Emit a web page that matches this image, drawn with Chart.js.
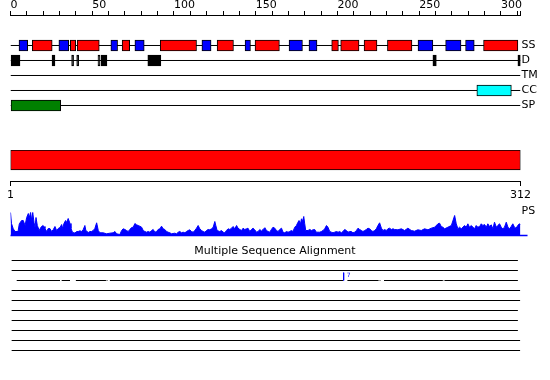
<!DOCTYPE html>
<html><head><meta charset="utf-8">
<script src="https://cdn.jsdelivr.net/npm/chart.js@4"></script>
<style>
html,body{margin:0;padding:0;background:#fff;}
#wrap{position:relative;width:550px;height:380px;overflow:hidden;}
canvas{position:absolute;left:0;top:0;}
</style></head><body>
<div id="wrap">
<canvas id="cTop" width="550" height="380"></canvas>
<canvas id="cSeq" width="550" height="380"></canvas>
<canvas id="cPS" width="550" height="380"></canvas>
<canvas id="cMSA" width="550" height="380"></canvas>
</div>
<script>
// ---------------- data ----------------
const seqLength = 312;
const topMinorStep = 10;
const topMajorStep = 50;
const trackNames = ['SS', 'D', 'TM', 'CC', 'SP'];
const ssTrackEnd = 310.4;
const helixSegments = [[13.3,25.5],[36.6,39.9],[40.8,54.3],[68.3,72.9],[91.6,113.8],[126.4,136.4],[149.6,164.5],[196.5,200.6],[202,213.2],[216.3,224.2],[230.6,245.6],[289.4,310.4]];
const strandSegments = [[5.2,10.5],[29.6,35.6],[61.4,65.5],[76.1,81.8],[117.1,122.7],[143.5,146.8],[170.4,178.6],[182.6,187.5],[249.3,258.4],[266.2,275.6],[278.4,283.7]];
const disorderSegments = [[0,5.8],[25.4,27.2],[37.4,38.6],[40.5,41.7],[53.5,54.7],[55.3,59],[84,92],[258.4,260.5],[310.4,312]];
const transmembraneSegments = [];
const coiledCoilSegments = [[285.3,306.4]];
const signalPeptideSegments = [[0,30.7]];
const seqTickLabels = [1, 312];
const psLabel = 'PS';
const psBaselineEnd = 316.3;
const psPositions = [0,0.6,1.7,2.8,4.6,5.4,6.8,7.8,8.9,9.9,10.9,11.5,12.3,13.0,13.6,14.4,15.0,15.6,16.4,17.6,18.5,19.7,20.5,21.1,22.1,23.1,24.1,25.2,26.2,27.2,28.2,29.2,30.3,31.3,31.9,32.7,33.7,34.3,35.3,36.4,37.0,38.0,39.4,40.5,41.4,42.5,43.5,44.5,45.5,46.1,47.6,48.6,49.6,50.6,51.6,52.7,53.7,54.7,56.7,58.8,60.8,62.8,63.9,64.9,66.9,68.0,68.9,70.0,71.0,72.0,73.0,74.1,75.1,76.1,77.1,78.1,79.1,80.2,81.2,82.2,83.2,84.2,85.3,86.3,87.3,88.3,89.4,90.3,91.4,92.4,93.4,94.4,95.5,96.4,97.5,98.5,100.5,101.6,102.6,103.6,104.6,105.6,106.7,107.7,108.7,109.7,110.7,111.7,112.8,113.8,114.8,115.8,116.9,117.8,118.9,119.9,120.9,121.9,123.0,124.0,125.0,125.6,126.4,128.0,129.1,130.1,131.1,132.1,133.1,134.2,135.2,136.2,137.2,138.3,139.2,140.3,141.3,142.3,143.3,144.4,145.3,146.4,147.4,148.4,149.4,150.5,151.5,152.5,153.5,154.5,155.6,156.6,157.6,158.6,159.6,160.6,161.7,162.7,163.7,164.7,165.8,166.7,167.8,168.8,169.8,170.8,171.9,172.8,173.9,174.9,175.9,176.5,177.4,178.0,178.6,179.4,180.0,180.6,182.0,183.1,184.1,185.1,186.1,187.1,189.2,190.2,191.2,192.2,193.3,194.2,195.3,196.3,197.3,198.3,199.4,200.4,201.4,202.4,203.4,204.4,205.5,206.5,207.5,208.5,209.5,210.6,211.6,212.6,213.6,214.7,215.6,216.7,217.7,218.7,219.7,220.8,221.7,222.8,223.8,224.8,225.8,226.9,227.9,228.9,229.9,230.9,231.9,233.0,234.0,235.0,237.0,239.1,241.1,243.1,245.2,247.2,249.2,251.3,253.3,255.4,257.4,259.5,261.5,262.5,263.5,264.5,265.6,267.6,269.7,271.7,272.7,273.7,274.7,275.8,277.8,278.8,279.8,280.8,281.9,282.9,283.9,284.9,285.9,287.0,288.0,289.0,290.0,291.1,292.0,293.1,294.1,295.1,296.1,297.2,298.1,299.2,300.2,301.2,302.2,303.3,304.3,305.3,306.3,307.3,308.3,309.3,310.3,311.3,312];
const psScores = [23,12,6.7,4,4,11.7,15,15,10,18,22,18,23,15,23,13,8,18,10,5,8,10,9,7,4,7,7,4,6,9,5,7,8,11,7,12,15,13,17,12,7,3,2.5,4,4,4.7,4,6,10,5,3,4,4,5,7,12.7,5,2.7,2.7,1.7,2.3,2.7,4,1.7,1,5,6.7,6,5,4,6,8,8.3,12,10.7,10,9.3,8.3,5,4,3.3,4,3.3,5,6,3.3,4,6,6.7,9.3,6.7,6,4,3.3,2.7,1.7,2.3,1.7,3.3,4,2.7,3.3,2.7,4,5,5.7,4,3.3,5,7.3,10,6.7,5,4,3.3,5,6,5.7,6.7,8.3,14,10,5,4,5,3.3,2.7,5,6.7,6,7.3,9,6.7,10,7.3,6,5,7.3,6,6.7,7.3,4,6,7.3,5.7,3.3,4,6,4.5,6,7.8,5,4,3.3,6,8.3,7.3,5,4,6,7.3,3.3,2.7,4,3.3,4,5,4,8.3,10,13.3,15,11.7,16.7,14,19,11.7,5,5,6,5,5.7,6,3.3,3.3,4,5,6.7,10,8.3,4,3.3,2.7,3.3,4,3.3,4,2.7,4,6,5,3.3,4,4,2.7,3.3,5,7.3,6,5,4,5,6,7.3,6.7,5,4,5,6.7,10,12.7,7.3,5,6,5,6.7,7.3,6,6.7,6,5.7,6.7,5,7.3,5,4.3,5.7,5,6.7,5.7,7.3,8.3,11.7,12.3,9,8.3,6.7,8.3,10,20,11.7,6.7,8.3,6.7,10,8.3,11.7,8.3,10,8.3,6.7,10,8.3,9,11.7,10,11,8.3,11.7,9,10.7,6.7,13.3,8.3,10,11.7,8.3,6.7,8.3,13.3,8.3,6.7,9,11.7,8.3,7.3,10,11.7,11];
const msaTitle = 'Multiple Sequence Alignment';
const msaRows = [
  [[0.7,310.4]],
  [[0.7,310.4]],
  [[3.8,30.3],[31.3,36.4],[40.0,58.4],[58.8,59.3],[60.8,203.4],[206.1,225.2],[225.8,226.3],[228.5,264.5],[265.0,265.4],[265.6,310.4]],
  [[0.7,311.8]],
  [[0.7,311.8]],
  [[0.7,310.4]],
  [[0.7,310.4]],
  [[0.7,310.4]],
  [[0.7,311.8]],
  [[0.7,311.8]]
];
const msaMarker = { pos: 203.8, row: 3, label: '7' };

// ---------------- setup ----------------
Chart.defaults.font.family = 'DejaVu Sans';
Chart.defaults.font.size = 11;
Chart.defaults.font.lineHeight = 1;
Chart.defaults.color = '#000';
const base = {
  responsive: false, animation: false, devicePixelRatio: 1,
  plugins: { legend: { display: false }, tooltip: { enabled: false }, title: { display: false } }
};
const segBars = (segs, row) => segs.map(s => ({ x: [s[0], s[1]], y: row }));
const trackLine = (row, end) => ({ type: 'line', data: [{ x: 0, y: row }, { x: end, y: row }], borderColor: '#000', borderWidth: 1, pointRadius: 0, order: 10 });
const boxSet = (segs, row, fill, border) => ({ type: 'bar', data: segBars(segs, row), backgroundColor: fill, borderColor: border, borderWidth: 1, borderSkipped: false, barThickness: 11, grouped: false, order: 1 });

// ---------------- top feature tracks ----------------
new Chart(document.getElementById('cTop'), {
  type: 'bar',
  data: { datasets: [
    trackLine(1, ssTrackEnd), trackLine(2, seqLength), trackLine(3, seqLength), trackLine(4, seqLength), trackLine(5, seqLength),
    boxSet(helixSegments, 1, '#ff0000', '#000'),
    boxSet(strandSegments, 1, '#0000ff', '#000'),
    boxSet(disorderSegments, 2, '#000', '#000'),
    boxSet(transmembraneSegments, 3, '#ffff00', '#000'),
    boxSet(coiledCoilSegments, 4, '#00ffff', '#000'),
    boxSet(signalPeptideSegments, 5, '#008000', '#000')
  ]},
  options: Object.assign({}, base, {
    indexAxis: 'y',
    layout: { padding: { left: 10.5, top: 0, right: 0, bottom: 260 } },
    scales: {
      x: { type: 'linear', position: 'top', min: 0, max: seqLength, offset: false,
        afterBuildTicks: s => { const t = []; for (let v = 0; v < seqLength; v += topMinorStep) t.push({ value: v }); t.push({ value: seqLength }); s.ticks = t; },
        afterFit: s => { s.height = 15; },
        ticks: { autoSkip: false, maxRotation: 0, minRotation: 0, padding: 0, align: 'start',
          callback: v => (v % topMajorStep === 0 && v < seqLength) ? String(v) : '' },
        grid: { display: true, drawOnChartArea: false, drawTicks: true, tickLength: 4, color: '#000', lineWidth: 1, offset: false },
        border: { display: true, color: '#000', width: 1 } },
      y: { type: 'linear', position: 'right', reverse: true, min: -1.0333, max: 5.9667, offset: false,
        afterBuildTicks: s => { s.ticks = trackNames.map((n, i) => ({ value: i + 1 })); },
        afterFit: s => { s.width = 29.5; },
        ticks: { padding: 1, autoSkip: false, callback: v => trackNames[Math.round(v) - 1] },
        grid: { display: false, drawTicks: false, offset: false }, border: { display: false } }
    }
  })
});

// ---------------- sequence bar ----------------
new Chart(document.getElementById('cSeq'), {
  type: 'bar',
  data: { datasets: [{ data: [{ x: [seqTickLabels[0], seqTickLabels[1]], y: 1 }], backgroundColor: '#ff0000', borderColor: '#000', borderWidth: 1, borderSkipped: false, barThickness: 20, grouped: false }] },
  options: Object.assign({}, base, {
    indexAxis: 'y',
    layout: { padding: { left: 10.5, right: 29.5, top: 150, bottom: 174 } },
    scales: {
      x: { type: 'linear', position: 'bottom', min: seqTickLabels[0], max: seqTickLabels[1], offset: false,
        afterBuildTicks: s => { s.ticks = seqTickLabels.map(v => ({ value: v })); },
        afterFit: s => { s.height = 25; },
        ticks: { autoSkip: false, maxRotation: 0, minRotation: 0, padding: 4 },
        grid: { display: true, drawOnChartArea: false, drawTicks: true, tickLength: 5, color: '#000', offset: false },
        border: { display: true, color: '#000', width: 1 } },
      y: { type: 'linear', display: false, reverse: true, min: 0, max: 3.1, offset: false, grid: { offset: false } }
    }
  })
});

// ---------------- PS profile ----------------
new Chart(document.getElementById('cPS'), {
  type: 'line',
  data: { datasets: [
    { data: psPositions.map((p, i) => ({ x: p, y: psScores[i] })), borderColor: '#0000ff', backgroundColor: '#0000ff', borderWidth: 1, fill: 'origin', pointRadius: 0, tension: 0 },
    { data: [{ x: 0, y: 0 }, { x: psBaselineEnd, y: 0 }], borderColor: '#0000ff', borderWidth: 1.5, pointRadius: 0, fill: false, clip: false }
  ]},
  options: Object.assign({}, base, {
    layout: { padding: { left: 10.5, right: 0, top: 205.5, bottom: 144.5 } },
    scales: {
      x: { type: 'linear', display: false, min: 0, max: seqLength },
      y: { type: 'linear', position: 'right', min: 0, max: 30,
        afterBuildTicks: s => { s.ticks = [{ value: 24.5 }]; },
        afterFit: s => { s.width = 29.5; },
        ticks: { padding: 1, callback: () => psLabel },
        grid: { display: false, drawTicks: false }, border: { display: false } }
    }
  })
});

// ---------------- MSA ----------------
const msaDatasets = msaRows.map((segs, i) => {
  const pts = [];
  segs.forEach((s, j) => {
    if (j > 0) pts.push({ x: (segs[j - 1][1] + s[0]) / 2, y: null });
    pts.push({ x: s[0], y: i + 1 }, { x: s[1], y: i + 1 });
  });
  return { data: pts, borderColor: '#000', borderWidth: 1, pointRadius: 0, spanGaps: false, fill: false };
});
msaDatasets.push({ data: [{ x: msaMarker.pos, y: msaMarker.row - 0.78 }, { x: msaMarker.pos, y: msaMarker.row }], borderColor: '#0000ff', borderWidth: 1, pointRadius: 0, fill: false });
const markerLabel = {
  id: 'markerLabel',
  afterDatasetsDraw(chart) {
    const { ctx, scales } = chart;
    ctx.save();
    ctx.fillStyle = '#0000ff';
    ctx.font = '6px DejaVu Sans';
    ctx.textAlign = 'left';
    ctx.textBaseline = 'top';
    ctx.fillText(msaMarker.label, scales.x.getPixelForValue(msaMarker.pos) + 3, scales.y.getPixelForValue(msaMarker.row - 0.78));
    ctx.restore();
  }
};
new Chart(document.getElementById('cMSA'), {
  type: 'line',
  data: { datasets: msaDatasets },
  plugins: [markerLabel],
  options: Object.assign({}, base, {
    layout: { padding: { left: 0, right: 0, top: 246, bottom: 19.5 } },
    plugins: { legend: { display: false }, tooltip: { enabled: false },
      title: { display: true, text: msaTitle, color: '#000', padding: { top: 0, bottom: 0 }, font: { family: 'DejaVu Sans', size: 11, weight: 'normal', lineHeight: 1 } } },
    scales: {
      x: { type: 'linear', display: false, min: 0, max: seqLength },
      y: { type: 'linear', position: 'left', reverse: true, min: 0.65, max: 11,
        afterFit: s => { s.width = 10.5; },
        ticks: { display: false }, grid: { display: false, drawTicks: false }, border: { display: false } },
      yr: { type: 'linear', position: 'right', min: 0, max: 1,
        afterFit: s => { s.width = 29.5; },
        ticks: { display: false }, grid: { display: false, drawTicks: false }, border: { display: false } }
    }
  })
});
</script>
</body></html>
